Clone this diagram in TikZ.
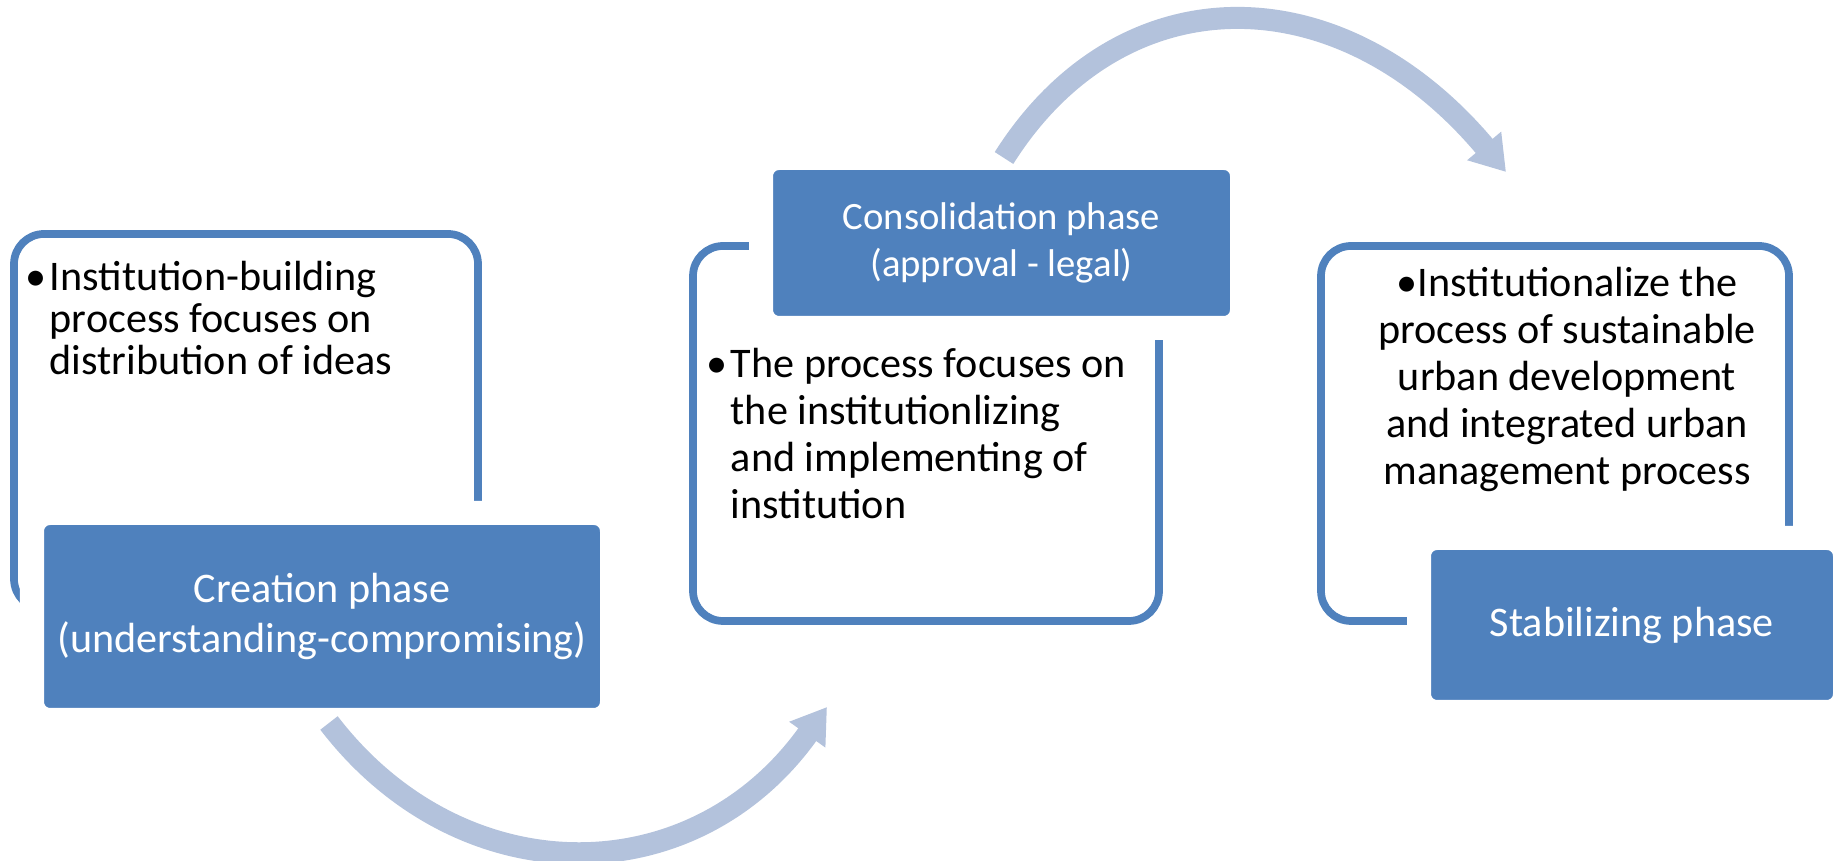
\documentclass[tikz,border=0pt]{standalone}
\usepackage{fontspec}
\setmainfont{Carlito}
\usetikzlibrary{arrows.meta}
\usetikzlibrary{positioning}
\definecolor{phaseblue}{RGB}{79,129,189}
\definecolor{arrowblue}{RGB}{179,194,220}

\begin{document}
\begin{tikzpicture}[>={Triangle[width=4.2mm,length=3.4mm]}, node distance=1cm]
  \tikzstyle{outline} = [rectangle, draw=phaseblue, line width=2.2pt, fill=white, rounded corners=0.3cm, minimum height=3.75cm];
  \tikzstyle{phase} = [rectangle, fill=phaseblue, draw=white, line width=0.24cm, rounded corners=0.18cm, text=white, align=center, font=\fontsize{12}{14}\selectfont];
  \tikzstyle{bullets} = [inner sep=0pt, text=black, font=\fontsize{12}{13.4}\selectfont];
  \tikzstyle{cycle} = [->, draw=arrowblue, line width=0.22cm];

  \useasboundingbox (0,0) rectangle (18.36,8.61);

  \node [outline, minimum width=4.64cm] (box1) at (2.46,4.395) {};
  \node [outline, minimum width=4.66cm] (box2) at (9.26,4.275) {};
  \node [outline, minimum width=4.68cm] (box3) at (15.55,4.275) {};

  \node [bullets, align=left, font=\fontsize{12}{12}\selectfont] (txt1) [below right=0.30cm and 0.39cm of box1.north west]
        {\llap{\textbullet\hspace{1pt}}Institution-building\\process focuses on\\distribution of ideas};
  \node [bullets, align=left] (txt2) [below right=1.05cm and 0.41cm of box2.north west]
        {\llap{\textbullet\hspace{1pt}}The process focuses on\\the institutionlizing\\and implementing of\\institution};
  \node [bullets, align=center, xshift=0.12cm] (txt3) [below=0.24cm of box3.north]
        {\textbullet Institutionalize the\\process of sustainable\\urban development\\and integrated urban\\management process};

  \node [phase, minimum width=5.80cm, minimum height=2.07cm] (creation) at (3.22,2.445)
        {Creation phase\\(understanding-compromising)};
  \node [phase, minimum width=4.81cm, minimum height=1.70cm, font=\fontsize{11}{13.5}\selectfont] (consol) at (10.015,6.18)
        {Consolidation phase\\(approval - legal)};
  \node [phase, minimum width=4.26cm, minimum height=1.74cm] (stable) at (16.32,2.36)
        {Stabilizing phase};

  % arrows between the phases
  \coordinate (c1out) at (3.29,1.38);
  \coordinate (c2in) at (8.27,1.54);
  \coordinate (c2out) at (10.04,7.03);
  \coordinate (c3in) at (15.06,6.89);
  \draw [cycle] (c1out) .. controls (4.61,-0.34) and (6.93,-0.34) .. (c2in);
  \draw [cycle] (c2out) .. controls (11.21,8.88) and (13.39,8.88) .. (c3in);
\end{tikzpicture}
\end{document}
